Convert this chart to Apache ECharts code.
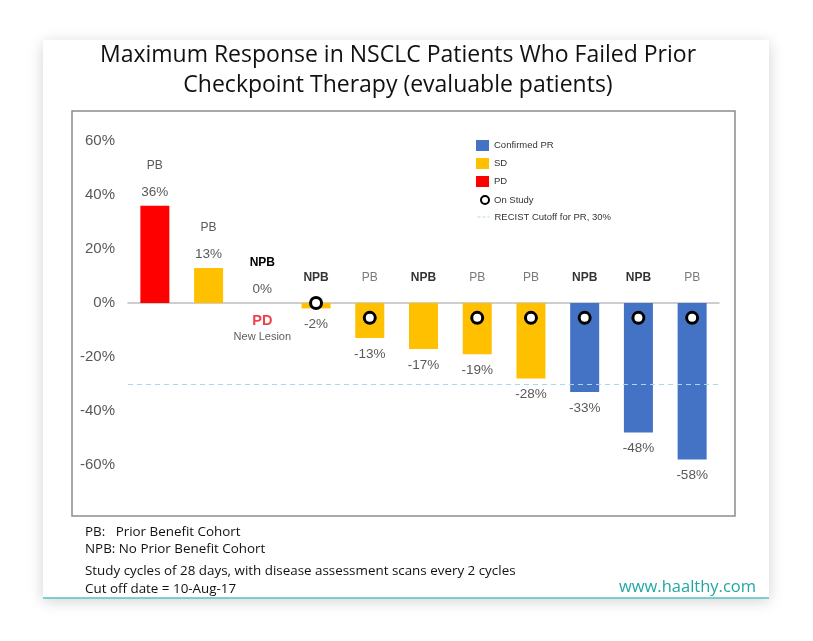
<!DOCTYPE html>
<html><head><meta charset="utf-8">
<script src="https://cdn.jsdelivr.net/npm/echarts@6/dist/echarts.min.js"></script>
<style>html,body{margin:0;padding:0;background:#fff}#c{width:813px;height:641px}</style>
</head><body><div id="c"></div>
<script>
const categories = ['P1','P2','P3','P4','P5','P6','P7','P8','P9','P10','P11'];
const cohorts = ['PB','PB','NPB','NPB','PB','NPB','PB','PB','NPB','NPB','PB'];
const values = [36, 13, 0, -2, -13, -17, -19, -28, -33, -48, -58];
const responses = ['PD','SD','PD','SD','SD','SD','SD','SD','PR','PR','PR'];
const onStudyY = [null, null, null, 0, -5.5, null, -5.5, -5.5, -5.5, -5.5, -5.5];
const yTicks = [-60, -40, -20, 0, 20, 40, 60];
const recistCutoff = -30;

const colors = { PR: '#4472c4', SD: '#ffc000', PD: '#ff0000' };
const names = { PR: 'Confirmed PR', SD: 'SD', PD: 'PD' };
const FONT = '"Liberation Sans", Arial, sans-serif';
const UI = '"Open Sans", "Noto Sans", sans-serif';
const legendText = { fontFamily: FONT, fontSize: 9.5, color: '#333' };

function barSeries(key) {
  return {
    name: names[key], type: 'bar', stack: 'all', barWidth: 29,
    itemStyle: { color: colors[key] },
    data: values.map((v, i) => responses[i] === key
      ? { value: v, label: { position: v >= 0 ? 'top' : 'bottom', distance: v >= 0 ? 4 : 6 } } : '-'),
    label: {
      show: true, distance: 4,
      formatter: p => {
        const v = values[p.dataIndex];
        if (v >= 0) {
          const c = cohorts[p.dataIndex];
          return '{' + (c === 'NPB' ? 'cb' : 'cn') + '|' + c + '}\n{v|' + v + '%}';
        }
        return '{v|' + v + '%}';
      },
      rich: {
        cb: { fontFamily: FONT, fontSize: 12, fontWeight: 'bold', color: '#000', lineHeight: 32 },
        cn: { fontFamily: FONT, fontSize: 12, color: '#595959', lineHeight: 32 },
        v: { fontFamily: FONT, fontSize: 13.5, color: '#595959', lineHeight: 20 }
      }
    }
  };
}

const option = {
  animation: false,
  graphic: [
    { type: 'rect', z: -10, shape: { x: 43, y: 40, width: 726, height: 558 },
      style: { fill: '#fff', shadowBlur: 14, shadowColor: 'rgba(0,0,0,0.18)', shadowOffsetY: 3 } },
    { type: 'rect', z: -9, shape: { x: 72, y: 111, width: 663, height: 405 },
      style: { fill: 'none', stroke: '#8c8c8c', lineWidth: 1.5 } },
    { type: 'line', z: -8, shape: { x1: 43, y1: 598, x2: 769, y2: 598 },
      style: { stroke: '#56c2bf', lineWidth: 1.5 } },
    { type: 'text', left: 85, top: 526, style: { text: 'PB:   Prior Benefit Cohort', font: '13.4px ' + UI, fill: '#111' } },
    { type: 'text', left: 85, top: 543, style: { text: 'NPB: No Prior Benefit Cohort', font: '13.4px ' + UI, fill: '#111' } },
    { type: 'text', left: 85, top: 565, style: { text: 'Study cycles of 28 days, with disease assessment scans every 2 cycles', font: '13.4px ' + UI, fill: '#111' } },
    { type: 'text', left: 85, top: 583, style: { text: 'Cut off date = 10-Aug-17', font: '13.4px ' + UI, fill: '#111' } },
    { type: 'text', left: 619, top: 579, style: { text: 'www.haalthy.com', font: '16.5px ' + UI, fill: '#22a8a4' } }
  ],
  title: {
    text: 'Maximum Response in NSCLC Patients Who Failed Prior\nCheckpoint Therapy (evaluable patients)',
    left: 393, textAlign: 'center', top: 35,
    textStyle: { fontFamily: UI, fontSize: 23, fontWeight: 'normal', color: '#111', lineHeight: 30 }
  },
  legend: [
    {
      orient: 'vertical', left: 476, top: 140, padding: 0, itemGap: 7, itemWidth: 13, itemHeight: 11,
      textStyle: legendText,
      data: [
        { name: 'Confirmed PR', icon: 'rect' },
        { name: 'SD', icon: 'rect' },
        { name: 'PD', icon: 'rect' }
      ]
    },
    {
      left: 480, top: 195, padding: 0, itemWidth: 8, itemHeight: 8, itemGap: 8, textStyle: legendText,
      data: [{ name: 'On Study', icon: 'circle', itemStyle: { color: '#fff', borderColor: '#000', borderWidth: 2 } }]
    },
    {
      left: 477, top: 212, padding: 0, itemWidth: 12, itemHeight: 10, textStyle: legendText,
      data: [{ name: 'RECIST Cutoff for PR, 30%', itemStyle: { opacity: 0 },
        lineStyle: { color: '#a9d8e6', type: [3, 2], width: 1 } }]
    }
  ],
  grid: { left: 128, right: 94, top: 141, bottom: 176 },
  xAxis: {
    type: 'category', data: categories,
    axisLine: { lineStyle: { color: '#bfbfbf', width: 1.5 } },
    axisTick: { show: false }, axisLabel: { show: false }
  },
  yAxis: {
    type: 'value', min: yTicks[0], max: yTicks[yTicks.length - 1], interval: 20,
    splitLine: { show: false }, axisLine: { show: false }, axisTick: { show: false },
    axisLabel: { margin: 13, formatter: v => v + '%', fontFamily: FONT, fontSize: 15, color: '#595959' }
  },
  series: [
    barSeries('PR'), barSeries('SD'), barSeries('PD'),
    {
      name: 'cohort', type: 'scatter', symbolSize: 0, silent: true, z: 4,
      data: values.map((v, i) => v <= 0 ? {
        value: [i, 0],
        label: i === 2 ? { show: true, position: 'bottom', distance: 9,
          formatter: '{pd|PD}\n{nl|New Lesion}' } : { show: true }
      } : '-'),
      label: {
        show: true, position: 'top', distance: 19,
        formatter: p => {
          const c = cohorts[p.dataIndex];
          return '{' + (c === 'NPB' ? 'cb' : 'cn') + '|' + c + '}';
        },
        rich: {
          cb: { fontFamily: FONT, fontSize: 12, fontWeight: 'bold', color: '#000' },
          cn: { fontFamily: FONT, fontSize: 12, color: '#595959' },
          pd: { fontFamily: FONT, fontSize: 14.5, fontWeight: 'bold', color: '#e8141c', lineHeight: 17 },
          nl: { fontFamily: FONT, fontSize: 11, color: '#333', lineHeight: 15 }
        }
      }
    },
    {
      name: 'On Study', type: 'scatter', symbol: 'circle', symbolSize: 11, z: 6,
      itemStyle: { color: '#fff', borderColor: '#000', borderWidth: 3, opacity: 1 },
      data: onStudyY.map((y, i) => y === null ? '-' : [i, y])
    },
    {
      name: 'RECIST Cutoff for PR, 30%', type: 'line', symbol: 'none', showSymbol: false, z: 5, data: [],
      lineStyle: { color: '#a9d8e6', type: 'dashed', width: 1.2 },
      itemStyle: { color: '#a9d8e6' },
      markLine: {
        silent: true, symbol: 'none', z: 10, label: { show: false },
        lineStyle: { color: '#a9d8e6', type: [5, 4], width: 1.2 },
        data: [{ yAxis: recistCutoff }]
      }
    }
  ]
};
echarts.init(document.getElementById('c')).setOption(option);
</script></body></html>
